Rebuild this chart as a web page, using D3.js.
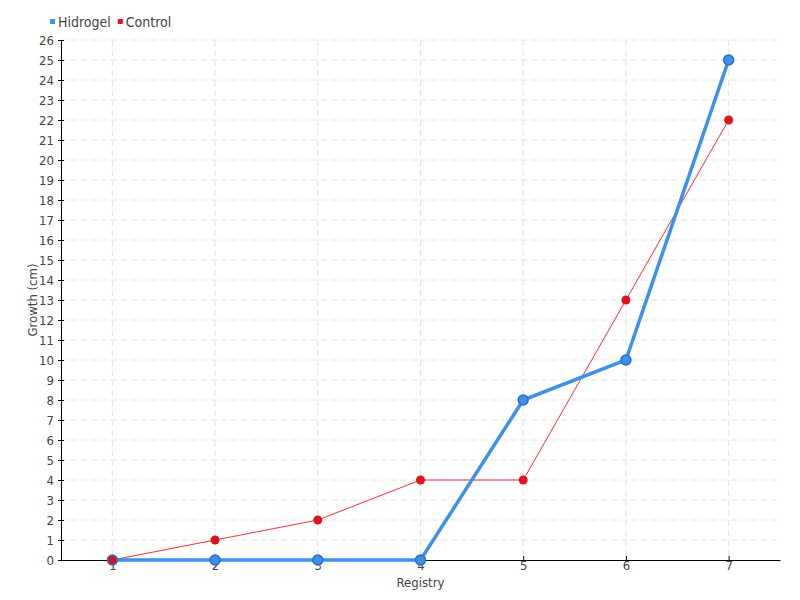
<!DOCTYPE html>
<html lang="en">
<head>
<meta charset="utf-8">
<title>Growth chart</title>
<script src="https://cdn.jsdelivr.net/npm/d3@7"></script>
<style>
  body { margin: 0; background: #fff; }
  text { font-family: "DejaVu Sans Condensed", "DejaVu Sans", sans-serif; font-stretch: condensed; fill: #444; }
</style>
</head>
<body>
<script>
// Data
var registry = [1, 2, 3, 4, 5, 6, 7];
var hidrogel = [0, 0, 0, 0, 8, 10, 25];
var control = [0, 1, 2, 4, 4, 13, 22];
var yTicks = d3.range(0, 27);

var w = 800, h = 600;
var margin = { top: 40, right: 20, bottom: 40, left: 61 };
var fontFam = "'DejaVu Sans Condensed', 'DejaVu Sans', sans-serif";

var svg = d3.select("body").append("svg")
  .attr("width", w)
  .attr("height", h);

var x = d3.scalePoint()
  .domain(registry)
  .range([margin.left, w - margin.right])
  .padding(0.5);

var y = d3.scaleLinear()
  .domain([0, 26])
  .range([h - margin.bottom, margin.top]);

// grid
var grid = svg.append("g");
grid.selectAll("line.h")
  .data(yTicks.slice(1))
  .enter().append("line")
  .attr("x1", margin.left).attr("x2", w - margin.right)
  .attr("y1", function(d) { return y(d); })
  .attr("y2", function(d) { return y(d); })
  .attr("stroke", "#e2e2e2")
  .attr("stroke-dasharray", "6,4");
grid.selectAll("line.v")
  .data(registry)
  .enter().append("line")
  .attr("x1", function(d) { return x(d); })
  .attr("x2", function(d) { return x(d); })
  .attr("y1", margin.top).attr("y2", h - margin.bottom)
  .attr("stroke", "#e2e2e2")
  .attr("stroke-dasharray", "6,4");

// axes
var yAxis = svg.append("g")
  .attr("transform", "translate(" + margin.left + ",0)")
  .call(d3.axisLeft(y).tickValues(yTicks).tickSize(3).tickPadding(4).tickFormat(d3.format("d")));
yAxis.selectAll(".tick line").attr("x2", 3).attr("x1", -3);

var xAxis = svg.append("g")
  .attr("transform", "translate(0," + (h - margin.bottom) + ")")
  .call(d3.axisBottom(x).tickSize(0).tickPadding(1));
xAxis.selectAll(".tick line").attr("y1", -4).attr("y2", 0);

svg.selectAll(".domain").attr("stroke", "#000").attr("stroke-width", 1);
svg.selectAll(".tick line").attr("stroke", "#000");
svg.selectAll(".tick text")
  .attr("font-size", 13)
  .attr("font-family", fontFam)
  .attr("fill", "#444");

// axis titles
svg.append("text")
  .attr("x", (margin.left + w - margin.right) / 2)
  .attr("y", 587)
  .attr("text-anchor", "middle")
  .attr("font-size", 13)
  .text("Registry");

svg.append("text")
  .attr("transform", "translate(37," + (y(13)) + ") rotate(-90)")
  .attr("text-anchor", "middle")
  .attr("font-size", 13)
  .text("Growth (cm)");

var line = d3.line()
  .x(function(d, i) { return x(registry[i]); })
  .y(function(d) { return y(d); });

// Control series
svg.append("path")
  .datum(control)
  .attr("d", line)
  .attr("fill", "none")
  .attr("stroke", "#f0303c")
  .attr("stroke-width", 1);
svg.selectAll("circle.control")
  .data(control)
  .enter().append("circle")
  .attr("cx", function(d, i) { return x(registry[i]); })
  .attr("cy", function(d) { return y(d); })
  .attr("r", 4.5)
  .attr("fill", "#e0141e");

// Hidrogel series
svg.append("path")
  .datum(hidrogel)
  .attr("d", line)
  .attr("fill", "none")
  .attr("stroke", "#3d90ee")
  .attr("stroke-width", 3.5);
svg.selectAll("circle.hidrogel")
  .data(hidrogel)
  .enter().append("circle")
  .attr("cx", function(d, i) { return x(registry[i]); })
  .attr("cy", function(d) { return y(d); })
  .attr("r", 5)
  .attr("fill", "#3d90ee")
  .attr("stroke", "#2a6cc4")
  .attr("stroke-width", 1.5);

// the control point at 1 sits on top in the reference
svg.append("circle")
  .attr("cx", x(registry[0]))
  .attr("cy", y(control[0]))
  .attr("r", 4)
  .attr("fill", "#d8101e");

// legend
var legend = [{ name: "Hidrogel", color: "#3d90ee" }, { name: "Control", color: "#e0141e" }];
var lx = 50;
legend.forEach(function(l) {
  svg.append("rect")
    .attr("x", lx).attr("y", 19)
    .attr("width", 5).attr("height", 5)
    .attr("fill", l.color);
  var t = svg.append("text")
    .attr("x", lx + 8).attr("y", 27)
    .attr("font-size", 14)
    .text(l.name);
  lx += 8 + t.node().getComputedTextLength() + 7;
});
</script>
</body>
</html>
